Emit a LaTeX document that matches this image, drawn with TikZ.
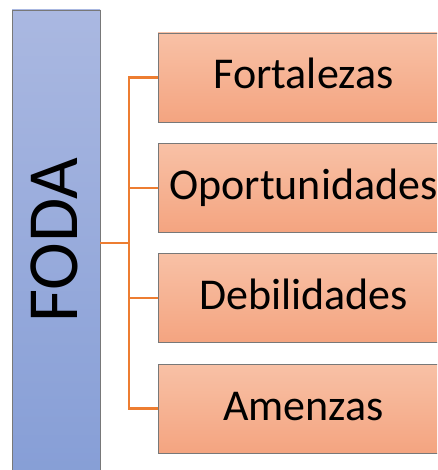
\documentclass[tikz,border=0pt]{standalone}
\usepackage{fontspec}
\setmainfont{Carlito}
\definecolor{bluetop}{RGB}{170,184,225}
\definecolor{bluebot}{RGB}{134,158,214}
\definecolor{orgtop}{RGB}{248,193,166}
\definecolor{orgbot}{RGB}{244,164,128}
\definecolor{edgegray}{RGB}{120,120,120}
\definecolor{conn}{RGB}{237,125,49}
\begin{document}
\begin{tikzpicture}[x=1pt,y=-1pt,
  leftbar/.style={draw=edgegray,line width=0.9pt,top color=bluetop,bottom color=bluebot,
    minimum width=88pt,minimum height=470pt,inner sep=0pt},
  itembox/.style={draw=edgegray,line width=0.9pt,top color=orgtop,bottom color=orgbot,
    minimum width=291pt,minimum height=89pt,inner sep=0pt,
    font=\fontsize{44}{50}\selectfont,text height=31pt,text depth=8pt},
  connector/.style={draw=conn,line width=2.4pt}]
\useasboundingbox (0,0) rectangle (437,470);
\clip (0,0) rectangle (437,470);
\node[leftbar] (b) at (56,245) {};
\node[rotate=90,inner sep=0pt,font=\fontsize{72}{80}\selectfont,text height=50pt,text depth=4pt] (foda) at (54,240) {FODA};
\node[itembox] (f1) at (303.5,77.5) {Fortalezas};
\node[itembox] (f2) at (303.5,187.8) {Oportunidades};
\node[itembox] (f3) at (303.5,298.1) {Debilidades};
\node[itembox] (f4) at (303.5,408.5) {Amenzas};
\coordinate (j) at (129,243);
\draw[connector] (j -| b.east) -- (j);
\draw[connector] (f1.west) -- (f1.west -| j) -- (f4.west -| j) -- (f4.west);
\draw[connector] (f2.west) -- (f2.west -| j);
\draw[connector] (f3.west) -- (f3.west -| j);
\end{tikzpicture}
\end{document}
